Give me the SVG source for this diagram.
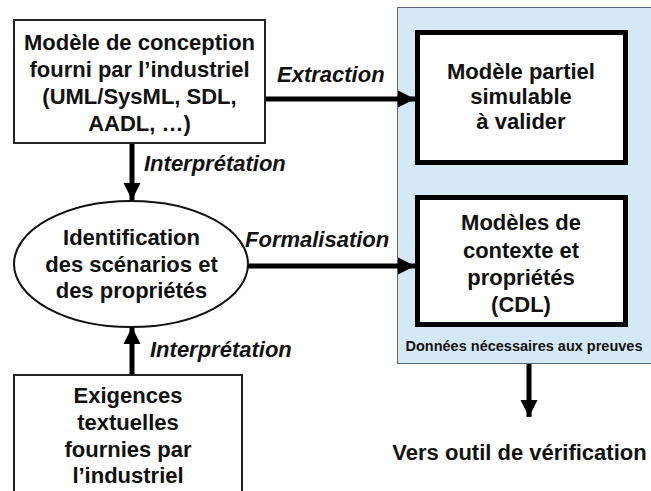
<svg xmlns="http://www.w3.org/2000/svg" width="651" height="491" viewBox="0 0 651 491">
<style>
text{font-family:"Liberation Sans",Arial,sans-serif;font-weight:bold;fill:#111}
.n{font-size:22px;text-anchor:middle}
.l{font-size:22px;font-style:italic}
.thin{fill:#fff;stroke:#222;stroke-width:2}
.thick{fill:#fff;stroke:#000;stroke-width:5}
.c{stroke:#000;stroke-width:5;fill:none}
</style>
<defs>
<marker id="ah" viewBox="0 0 10 10" refX="10" refY="5" markerWidth="3.4" markerHeight="3.6" orient="auto" markerUnits="strokeWidth">
<path d="M0,0 L10,5 L0,10 z" fill="#000"/>
</marker>
</defs>
<rect width="651" height="491" fill="#fff"/>
<g id="panel">
<rect x="397.5" y="7.5" width="262" height="356" fill="#d5e8f6" stroke="#5a6878" stroke-width="1"/>
<text x="524" y="351" style="font-size:14.5px;text-anchor:middle">Données nécessaires aux preuves</text>
</g>
<g id="connectors">
<line class="c" x1="265" y1="99" x2="415" y2="99" marker-end="url(#ah)"/>
<line class="c" x1="248" y1="266" x2="415" y2="266" marker-end="url(#ah)"/>
<line class="c" x1="132" y1="143" x2="132" y2="200" marker-end="url(#ah)"/>
<line class="c" x1="132" y1="375" x2="132" y2="327" marker-end="url(#ah)"/>
<line class="c" x1="529" y1="364" x2="529" y2="417" marker-end="url(#ah)"/>
<text class="l" x="277" y="82">Extraction</text>
<text class="l" x="245" y="247">Formalisation</text>
<text class="l" x="144" y="171">Interprétation</text>
<text class="l" x="150" y="357">Interprétation</text>
</g>
<g id="conception">
<rect class="thin" x="14" y="20" width="251" height="123"/>
<text class="n" x="139.5" y="50">Modèle de conception</text>
<text class="n" x="139.5" y="77">fourni par l’industriel</text>
<text class="n" x="139.5" y="104">(UML/SysML, SDL,</text>
<text class="n" x="139.5" y="131">AADL, …)</text>
</g>
<g id="partiel">
<rect class="thick" x="417.5" y="32.5" width="208" height="130"/>
<text class="n" x="521" y="79">Modèle partiel</text>
<text class="n" x="521" y="104">simulable</text>
<text class="n" x="521" y="129">à valider</text>
</g>
<g id="identification">
<ellipse cx="131" cy="264" rx="117" ry="63" fill="#fff" stroke="#111" stroke-width="2"/>
<text class="n" x="131.5" y="245">Identification</text>
<text class="n" x="131.5" y="272">des scénarios et</text>
<text class="n" x="131.5" y="298">des propriétés</text>
</g>
<g id="contexte">
<rect class="thick" x="417.5" y="197.5" width="208" height="127"/>
<text class="n" x="521" y="230">Modèles de</text>
<text class="n" x="521" y="258">contexte et</text>
<text class="n" x="521" y="285">propriétés</text>
<text class="n" x="521" y="312">(CDL)</text>
</g>
<g id="exigences">
<rect class="thin" x="14" y="375" width="228" height="130"/>
<text class="n" x="128" y="403">Exigences</text>
<text class="n" x="128" y="430">textuelles</text>
<text class="n" x="128" y="457">fournies par</text>
<text class="n" x="128" y="483">l’industriel</text>
</g>
<g id="verification">
<text class="n" x="519.5" y="460">Vers outil de vérification</text>
</g>
</svg>
